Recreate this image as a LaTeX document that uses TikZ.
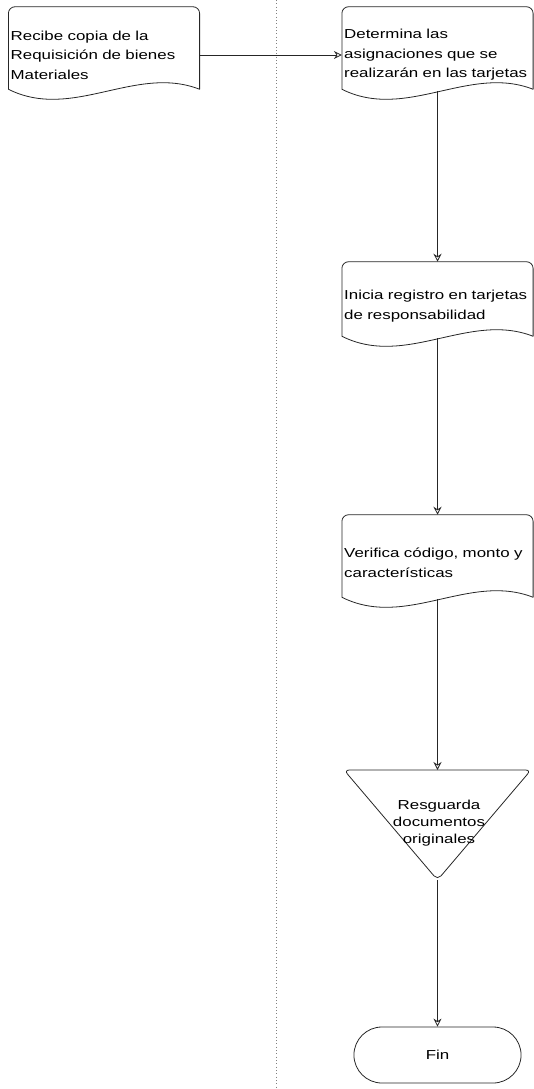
\documentclass[tikz,border=0pt]{standalone}
\usepackage{fontspec}
\setmainfont[FakeStretch=1.3]{Liberation Sans}
\usetikzlibrary{arrows.meta,shapes.misc}

\tikzset{
  line/.style={draw=black!85, line width=0.6pt},
  doc/.style={text width=140pt, inner sep=1.5pt, align=left, minimum height=72pt,
    font=\fontsize{9.75}{14.6}\selectfont},
  flow/.style={line, -{Stealth[length=6pt,width=6pt,open]}},
  lane/.style={draw=black!50, dotted, line width=0.5pt},
  tritext/.style={align=center, inner sep=0pt, font=\fontsize{9.75}{13}\selectfont},
  terminal/.style={line, rounded rectangle, minimum width=132pt, minimum height=42pt,
    font=\fontsize{9.75}{14.6}\selectfont}
}

% outline of a document shape round a named node
\newcommand{\docoutline}[1]{%
  \draw[line, rounded corners=5pt] ([yshift=10.5pt]#1.south west) -- (#1.north west)
    -- (#1.north east) -- ([yshift=10.5pt]#1.south east);
  \draw[line] ([yshift=10.5pt]#1.south east) .. controls +(-64,-25) and +(64,32)
    .. ([yshift=10.5pt]#1.south west);
}

\begin{document}
\begin{tikzpicture}[x=0.75pt,y=-0.75pt]
  \useasboundingbox (0,0) rectangle (534,1089);

  % lane separator
  \draw[lane] (276,0) -- (276,1089);

  \node[doc] (recibe) at (104,55) {Recibe copia de la\\Requisición de bienes\\Materiales};
  \node[doc] (determina) at (437.5,55) {Determina las\\asignaciones que se\\realizarán en las tarjetas};
  \node[doc, minimum height=66pt] (inicia) at (437.5,306) {Inicia registro en tarjetas\\de responsabilidad};
  \node[doc] (verifica) at (437.5,563) {Verifica código, monto y\\características};
  \docoutline{recibe}
  \docoutline{determina}
  \docoutline{inicia}
  \docoutline{verifica}

  % merge triangle
  \coordinate (tritop) at (437.5,770);
  \coordinate (triapex) at (437.5,880);
  \draw[line, rounded corners=4pt] (344,770) -- (531,770) -- (triapex) -- cycle;
  \node[tritext] (resguarda) at (439,823) {Resguarda\\documentos\\originales};

  \node[terminal] (fin) at (437.5,1055) {Fin};

  \draw[flow] (recibe) -- (determina);
  \draw[flow, shorten <=-9pt] (determina) -- (inicia);
  \draw[flow, shorten <=-9pt] (inicia) -- (verifica);
  \draw[flow, shorten <=-9pt] (verifica) -- (tritop);
  \draw[flow] (triapex) -- (fin);
\end{tikzpicture}
\end{document}
